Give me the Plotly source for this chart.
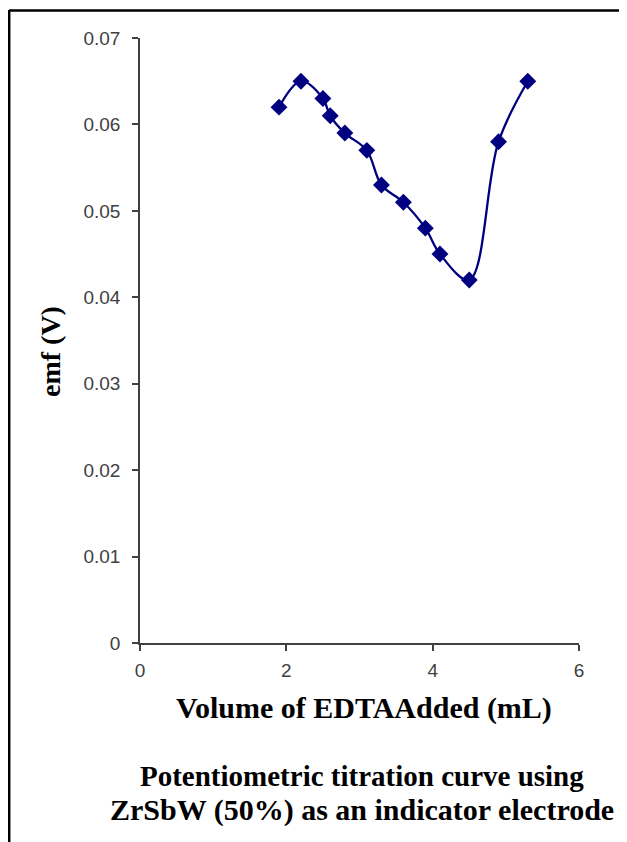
import plotly.graph_objects as go

volume_ml = [1.9, 2.2, 2.5, 2.6, 2.8, 3.1, 3.3, 3.6, 3.9, 4.1, 4.5, 4.9, 5.3]
emf_v = [0.062, 0.065, 0.063, 0.061, 0.059, 0.057, 0.053, 0.051, 0.048, 0.045, 0.042, 0.058, 0.065]

x_ticks = [0, 2, 4, 6]
x_tick_labels = ["0", "2", "4", "6"]
y_ticks = [0, 0.01, 0.02, 0.03, 0.04, 0.05, 0.06, 0.07]
y_tick_labels = ["0", "0.01", "0.02", "0.03", "0.04", "0.05", "0.06", "0.07"]

x_title = "Volume of EDTAAdded (mL)"
y_title = "emf (V)"
caption_lines = ["Potentiometric titration curve using", "ZrSbW (50%) as an indicator electrode"]

# page has an 8px body margin; figure drawn at page offset (8, 8)
OFF = 8
W, H = 627 - OFF, 842 - OFF
L, R, T, B = 140 - OFF, 48, 38 - OFF, 199
pw, ph = W - L - R, H - T - B

def px_x(p):  # page pixel -> paper x
    return (p - OFF - L) / pw

def px_y(p):  # page pixel -> paper y
    return (H - B - (p - OFF)) / ph

fig = go.Figure()
fig.add_trace(go.Scatter(
    x=volume_ml, y=emf_v, mode="lines+markers",
    line=dict(color="#000080", width=2.3, shape="spline", smoothing=1),
    marker=dict(symbol="diamond", size=13, color="#000080"),
    showlegend=False,
))

axis_font = dict(family="Liberation Sans, Arial", size=19, color="#404040")
fig.update_xaxes(
    range=[0, 6], tickvals=x_ticks, ticktext=x_tick_labels,
    showline=True, linecolor="#404040", linewidth=1.5,
    ticks="outside", ticklen=6, tickcolor="#404040", tickwidth=1.5,
    ticklabelstandoff=3,
    showgrid=False, zeroline=False, tickfont=axis_font,
)
fig.update_yaxes(
    range=[0, 0.07], tickvals=y_ticks, ticktext=y_tick_labels,
    showline=True, linecolor="#404040", linewidth=1.5,
    ticks="outside", ticklen=6, tickcolor="#404040", tickwidth=1.5,
    ticklabelstandoff=8,
    showgrid=False, zeroline=False, tickfont=axis_font,
)

title_font = dict(family="Liberation Serif, Times New Roman", color="black")
fig.add_annotation(text="<b>%s</b>" % x_title, xref="paper", yref="paper",
                   x=px_x(364), y=px_y(708), xanchor="center", yanchor="middle",
                   showarrow=False, font=dict(size=30, **title_font))
fig.add_annotation(text="<b>%s</b>" % y_title, xref="paper", yref="paper",
                   x=px_x(50), y=px_y(352), xanchor="center", yanchor="middle",
                   showarrow=False, textangle=-90, font=dict(size=28, **title_font))
for line_text, cy, fs in zip(caption_lines, [776, 810], [29, 30]):
    fig.add_annotation(text="<b>%s</b>" % line_text, xref="paper", yref="paper",
                       x=px_x(362), y=px_y(cy), xanchor="center", yanchor="middle",
                       showarrow=False, font=dict(size=fs, **title_font))

fig.add_shape(type="line", xref="paper", yref="paper",
              x0=px_x(9), x1=px_x(640), y0=px_y(10.5), y1=px_y(10.5),
              line=dict(color="black", width=2.5))
fig.add_shape(type="line", xref="paper", yref="paper",
              x0=px_x(9.2), x1=px_x(9.2), y0=px_y(10), y1=px_y(860),
              line=dict(color="black", width=2.5))

fig.update_layout(
    width=W, height=H, margin=dict(l=L, r=R, t=T, b=B),
    paper_bgcolor="white", plot_bgcolor="white",
)
fig.write_html("out.html")
